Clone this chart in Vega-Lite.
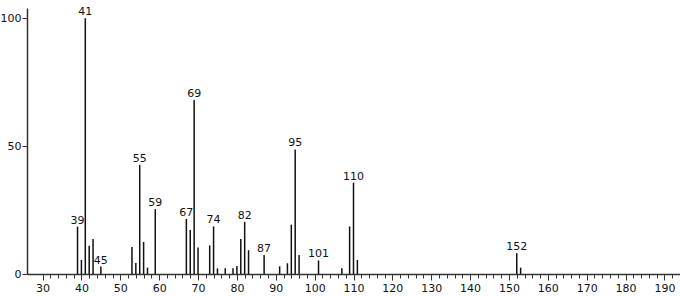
{
  "$schema": "https://vega.github.io/schema/vega-lite/v6.json",
  "width": 653,
  "height": 266,
  "autosize": "none",
  "padding": {"left": 27, "top": 8, "right": 0, "bottom": 22},
  "background": "white",
  "config": {"view": {"stroke": null}, "font": "DejaVu Sans"},
  "data": {"values": [
    {"mz": 39, "intensity": 18.5, "label": "39"},
    {"mz": 40, "intensity": 5.5, "label": ""},
    {"mz": 41, "intensity": 100, "label": "41"},
    {"mz": 42, "intensity": 11, "label": ""},
    {"mz": 43, "intensity": 13.7, "label": ""},
    {"mz": 45, "intensity": 2.9, "label": "45"},
    {"mz": 53, "intensity": 10.6, "label": ""},
    {"mz": 54, "intensity": 4.3, "label": ""},
    {"mz": 55, "intensity": 42.7, "label": "55"},
    {"mz": 56, "intensity": 12.5, "label": ""},
    {"mz": 57, "intensity": 2.5, "label": ""},
    {"mz": 59, "intensity": 25.4, "label": "59"},
    {"mz": 67, "intensity": 21.5, "label": "67"},
    {"mz": 68, "intensity": 17.2, "label": ""},
    {"mz": 69, "intensity": 68, "label": "69"},
    {"mz": 70, "intensity": 10.4, "label": ""},
    {"mz": 73, "intensity": 11.2, "label": ""},
    {"mz": 74, "intensity": 18.6, "label": "74"},
    {"mz": 75, "intensity": 2.2, "label": ""},
    {"mz": 77, "intensity": 2.2, "label": ""},
    {"mz": 79, "intensity": 2.2, "label": ""},
    {"mz": 80, "intensity": 3.1, "label": ""},
    {"mz": 81, "intensity": 13.7, "label": ""},
    {"mz": 82, "intensity": 20.4, "label": "82"},
    {"mz": 83, "intensity": 9.3, "label": ""},
    {"mz": 87, "intensity": 7.4, "label": "87"},
    {"mz": 91, "intensity": 3, "label": ""},
    {"mz": 93, "intensity": 4.2, "label": ""},
    {"mz": 94, "intensity": 19.3, "label": ""},
    {"mz": 95, "intensity": 48.7, "label": "95"},
    {"mz": 96, "intensity": 7.4, "label": ""},
    {"mz": 101, "intensity": 5.3, "label": "101"},
    {"mz": 107, "intensity": 2.2, "label": ""},
    {"mz": 109, "intensity": 18.6, "label": ""},
    {"mz": 110, "intensity": 35.7, "label": "110"},
    {"mz": 111, "intensity": 5.5, "label": ""},
    {"mz": 152, "intensity": 8.1, "label": "152"},
    {"mz": 153, "intensity": 2.5, "label": ""}
  ]},
  "encoding": {
    "x": {
      "field": "mz", "type": "quantitative",
      "scale": {"domain": [26, 194], "nice": false, "zero": false},
      "axis": {
        "title": null,
        "grid": false,
        "domainColor": "#333",
        "domainWidth": 1.5,
        "values": [30,32,34,36,38,40,42,44,46,48,50,52,54,56,58,60,62,64,66,68,70,72,74,76,78,80,82,84,86,88,90,92,94,96,98,100,102,104,106,108,110,112,114,116,118,120,122,124,126,128,130,132,134,136,138,140,142,144,146,148,150,152,154,156,158,160,162,164,166,168,170,172,174,176,178,180,182,184,186,188,190,192],
        "labelExpr": "datum.value % 10 === 0 ? datum.label : ''",
        "labelOverlap": false,
        "labelFlush": false,
        "labelFontSize": 11,
        "labelColor": "#111",
        "labelPadding": 2,
        "tickColor": "#333",
        "tickWidth": 1,
        "tickSize": {"condition": {"test": "datum.value % 10 === 0", "value": 6}, "value": 4}
      }
    },
    "y": {
      "field": "intensity", "type": "quantitative",
      "scale": {"domain": [0, 104], "nice": false},
      "axis": {
        "title": null,
        "grid": false,
        "values": [0, 50, 100],
        "domainColor": "#333",
        "domainWidth": 1.5,
        "tickColor": "#333",
        "tickSize": 5,
        "labelFontSize": 11,
        "labelColor": "#111",
        "labelPadding": 1
      }
    }
  },
  "layer": [
    {
      "mark": {"type": "rule", "color": "#111", "strokeWidth": 1.5},
      "encoding": {"y2": {"datum": 0}}
    },
    {
      "transform": [{"filter": "datum.label !== ''"}],
      "mark": {"type": "text", "baseline": "bottom", "dy": -1, "fontSize": 11, "color": "#111"},
      "encoding": {"text": {"field": "label"}}
    }
  ]
}
